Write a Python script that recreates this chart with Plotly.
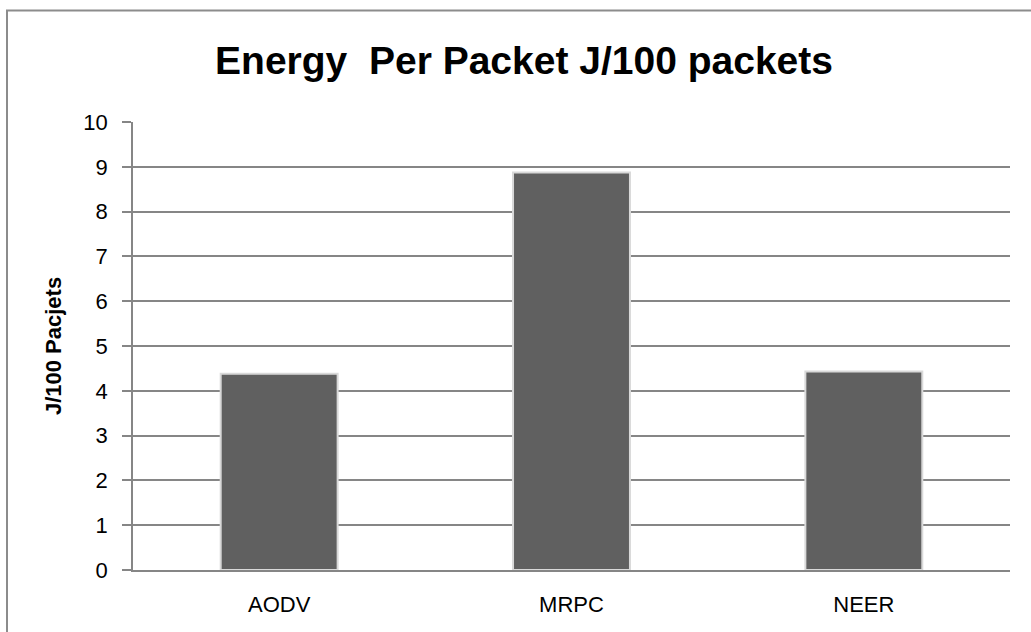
import plotly.graph_objects as go

categories = ["AODV", "MRPC", "NEER"]
energy_per_packet = [4.38, 8.87, 4.43]
y_ticks = [0, 1, 2, 3, 4, 5, 6, 7, 8, 9, 10]

fig = go.Figure()
fig.add_trace(go.Bar(
    x=categories,
    y=energy_per_packet,
    marker=dict(color="#606060", line=dict(color="#d9d9d9", width=2)),
    width=0.4,
))

L, R, T, B = 133, 21, 121.5, 62.3
W, H = 1031, 632
pw = W - L - R
ph = H - T - B

fig.update_layout(
    width=W, height=H,
    margin=dict(l=L, r=R, t=T, b=B),
    paper_bgcolor="white",
    plot_bgcolor="white",
    showlegend=False,
    title=dict(
        text="<b>Energy  Per Packet J/100 packets</b>",
        x=(524) / W, xanchor="center",
        y=1 - 60 / H, yanchor="middle",
        font=dict(family="Liberation Sans", size=39, color="black"),
    ),
    font=dict(family="Liberation Sans", color="black"),
    xaxis=dict(
        showline=True, linecolor="#868686", linewidth=2,
        ticks="", showgrid=False,
        tickfont=dict(size=22, family="Liberation Sans"),
        ticklabelstandoff=14,
    ),
    yaxis=dict(
        range=[0, 10], tickvals=y_ticks,
        showline=True, linecolor="#868686", linewidth=1.5,
        ticks="outside", ticklen=9, tickcolor="#868686", tickwidth=1.5,
        showgrid=True, gridcolor="#868686", gridwidth=1.5,
        zeroline=False,
        tickfont=dict(size=22, family="Liberation Sans"),
        ticklabelstandoff=10,
        title=dict(text="<b>J/100 Pacjets</b>", font=dict(size=22, family="Liberation Sans"), standoff=16),
    ),
    shapes=[dict(
        type="rect", xref="paper", yref="paper",
        x0=(7 - L) / pw, x1=(1040 - L) / pw,
        y0=(H - B - 645) / ph, y1=(H - B - 10) / ph,
        line=dict(color="#8c8c8c", width=2), fillcolor="rgba(0,0,0,0)",
        layer="below",
    )],
)

fig.write_html("out.html", config={"displayModeBar": False},
               post_script="document.body.style.margin='0px';")
